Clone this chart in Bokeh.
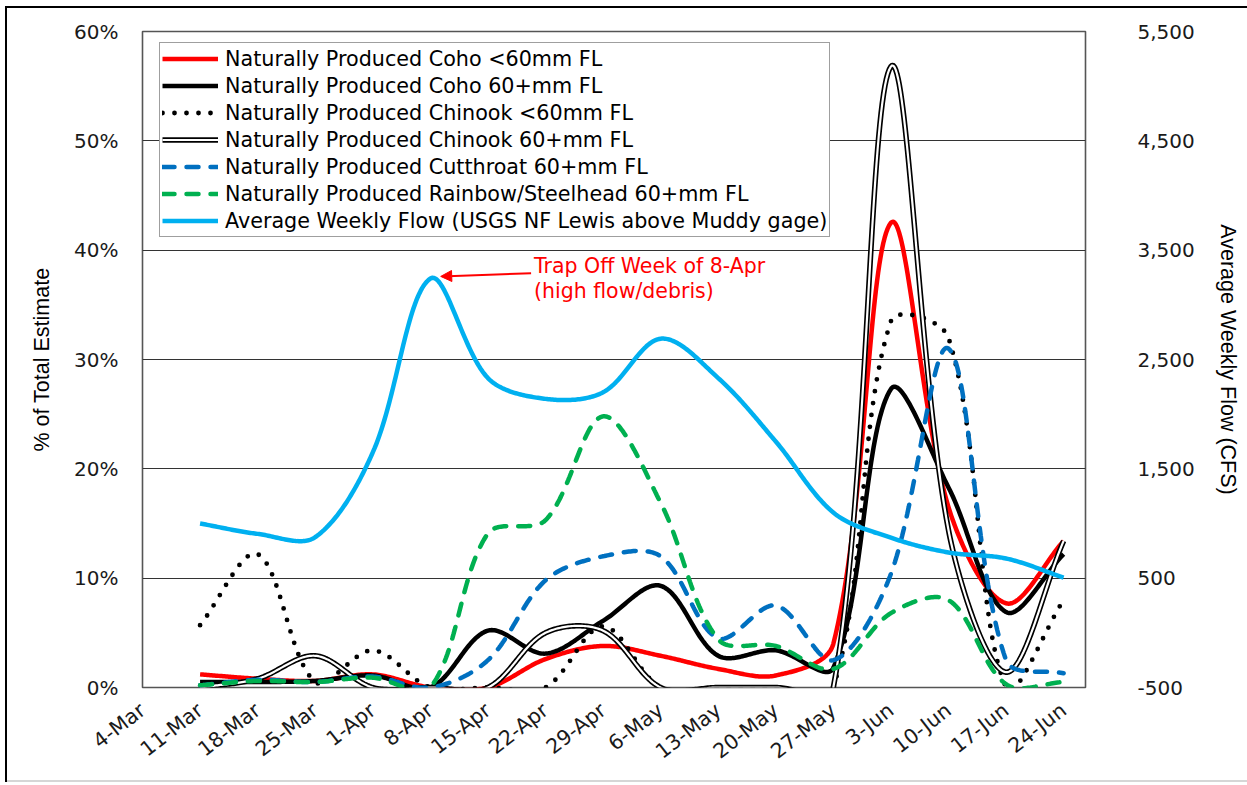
import numpy as np
from bokeh.plotting import figure
from bokeh.models import (Range1d, LinearAxis, FixedTicker, NumeralTickFormatter, Legend,
                          LegendItem, Label, Arrow, NormalHead)
from bokeh.embed import file_html
from bokeh.resources import INLINE

# Weekly tick labels along the x axis
week_labels = ["4-Mar", "11-Mar", "18-Mar", "25-Mar", "1-Apr", "8-Apr", "15-Apr", "22-Apr",
               "29-Apr", "6-May", "13-May", "20-May", "27-May", "3-Jun", "10-Jun", "17-Jun", "24-Jun"]
# Weeks that have catch / flow values (11-Mar .. 24-Jun)
sample_weeks = week_labels[1:]

# % of total estimate, per week
coho_lt60 = [1.2, 0.8, 0.6, 1.2, 0.0, 0.0, 2.6, 3.8, 2.9, 1.7, 1.1, 4.0, 42.5, 16.5, 7.7, 13.4]
coho_60plus = [0.5, 0.5, 0.6, 1.1, 0.0, 5.2, 3.1, 6.1, 9.3, 2.9, 3.4, 1.8, 27.3, 18.3, 6.9, 12.2]
chinook_lt60 = [5.7, 12.2, 0.5, 3.4, 0.0, 0.0, 0.0, 5.6, 0.0, 0.0, 0.0, 0.0, 33.5, 32.0, 0.0, 8.0]
chinook_60plus = [0.0, 0.8, 2.9, 0.0, 0.0, 0.0, 5.0, 5.2, 0.0, 0.0, 0.0, 0.0, 56.8, 14.4, 1.4, 13.4]
cutthroat_60plus = [0.2, 0.7, 0.5, 1.0, 0.0, 2.5, 9.8, 12.0, 12.0, 4.5, 7.5, 2.5, 10.4, 31.0, 2.5, 1.3]
rainbow_60plus = [0.2, 0.6, 0.5, 0.9, 0.0, 14.1, 15.3, 24.8, 16.9, 4.4, 3.8, 1.7, 6.8, 8.0, 0.3, 0.5]

# Average weekly flow (CFS), secondary axis
flow_cfs = [1000, 905, 875, 1650, 3240, 2330, 2140, 2200, 2690, 2330, 1750, 1100, 870, 735, 680, 505]

pct_ticks = [0, 10, 20, 30, 40, 50, 60]
flow_ticks = [-500, 500, 1500, 2500, 3500, 4500, 5500]

FONT = "DejaVu Sans"
TITLE_FONT = "Liberation Sans"

X_START, X_END = 0, 16.38
PCT_MIN, PCT_MAX = 0, 60
FLOW_MIN, FLOW_MAX = -500, 5500
FRAME_W, FRAME_H = 943, 656


def smooth(xs, ys, sx, sy, steps=40):
    """Smoothed curve through the points: cubic Bezier pieces whose tangents follow the
    neighbouring points, with control arms split by the on-screen segment lengths."""
    P = np.column_stack([np.asarray(xs, float) * sx, np.asarray(ys, float) * sy])
    n = len(P)
    right, left = [], []
    for i in range(n):
        prev_p = P[i - 1] if i > 0 else P[i]
        next_p = P[i + 1] if i < n - 1 else P[i]
        tan = next_p - prev_p
        d_prev = np.hypot(*(P[i] - prev_p))
        d_next = np.hypot(*(next_p - P[i]))
        tot = d_prev + d_next
        if tot == 0:
            right.append(P[i].copy())
            left.append(P[i].copy())
            continue
        right.append(P[i] + tan * (d_next / tot) / 3.0)
        left.append(P[i] - tan * (d_prev / tot) / 3.0)
    out = []
    for i in range(n - 1):
        p1, c1, c2, p2 = P[i], right[i], left[i + 1], P[i + 1]
        t = np.linspace(0, 1, steps, endpoint=(i == n - 2))[:, None]
        seg = ((1 - t) ** 3) * p1 + 3 * ((1 - t) ** 2) * t * c1 + 3 * (1 - t) * t ** 2 * c2 + t ** 3 * p2
        out.append(seg)
    out = np.vstack(out)
    return out[:, 0] / sx, out[:, 1] / sy


xpos = [week_labels.index(w) for w in sample_weeks]
px_per_week = FRAME_W / (X_END - X_START)
px_per_pct = FRAME_H / (PCT_MAX - PCT_MIN)
px_per_cfs = FRAME_H / (FLOW_MAX - FLOW_MIN)

p = figure(width=1247, height=785, output_backend="svg", toolbar_location=None,
           x_range=Range1d(X_START, X_END), y_range=Range1d(PCT_MIN, PCT_MAX),
           min_border_left=142, min_border_right=162, min_border_top=31, min_border_bottom=98)
p.background_fill_color = "white"
p.border_fill_alpha = 0
p.outline_line_color = "#555555"
p.outline_line_width = 1.6
# outer chart border (left / top dark, bottom light grey)
p.styles = {
    "background": ("linear-gradient(#000,#000) 5px 6px / 2px 776px no-repeat, "
                   "linear-gradient(#000,#000) 5px 6px / 1242px 2px no-repeat, "
                   "linear-gradient(#d6d6d6,#d6d6d6) 5px 780px / 1242px 2px no-repeat, #ffffff")
}

p.extra_y_ranges = {"flow": Range1d(FLOW_MIN, FLOW_MAX)}

# grid
p.xgrid.visible = False
p.ygrid.ticker = FixedTicker(ticks=pct_ticks)
p.ygrid.grid_line_color = "#333333"
p.ygrid.grid_line_width = 1.2

# left axis
yax = p.yaxis[0]
yax.ticker = FixedTicker(ticks=pct_ticks)
yax.major_label_overrides = {t: f"{t}%" for t in pct_ticks}
yax.axis_label = "% of Total Estimate"
yax.axis_label_text_font = TITLE_FONT
yax.axis_label_text_font_size = "21.5px"
yax.axis_label_text_font_style = "normal"
yax.axis_label_text_color = "black"
yax.axis_label_standoff = 17
yax.major_label_text_font = FONT
yax.major_label_text_font_size = "20px"
yax.major_label_text_color = "#1a1a1a"
yax.major_label_standoff = 24
yax.major_tick_out = 0
yax.major_tick_in = 0
yax.axis_line_color = None
yax.major_tick_line_color = None
yax.minor_tick_line_color = None

# right axis (flow)
rax = LinearAxis(y_range_name="flow")
rax.ticker = FixedTicker(ticks=flow_ticks)
rax.formatter = NumeralTickFormatter(format="0,0")
rax.axis_label = "Average Weekly Flow (CFS)"
rax.axis_label_text_font = TITLE_FONT
rax.axis_label_text_font_size = "21.5px"
rax.axis_label_text_font_style = "normal"
rax.axis_label_text_color = "black"
rax.axis_label_standoff = 18
rax.major_label_text_font = FONT
rax.major_label_text_font_size = "20px"
rax.major_label_text_color = "#1a1a1a"
rax.major_label_standoff = 52
rax.major_tick_out = 0
rax.major_tick_in = 0
rax.axis_line_color = None
rax.major_tick_line_color = None
rax.minor_tick_line_color = None
p.add_layout(rax, "right")

# bottom axis
xax = p.xaxis[0]
xax.ticker = FixedTicker(ticks=list(range(len(week_labels))))
xax.major_label_overrides = {i: lab for i, lab in enumerate(week_labels)}
xax.major_label_orientation = 0.66
xax.major_label_text_font = FONT
xax.major_label_text_font_size = "20.5px"
xax.major_label_text_color = "#1a1a1a"
xax.major_label_standoff = 20
xax.major_tick_out = 0
xax.major_tick_in = 0
xax.axis_line_color = None
xax.major_tick_line_color = None
xax.minor_tick_line_color = None

# series
x, y = smooth(xpos, coho_lt60, px_per_week, px_per_pct)
r_coho_lt60 = p.line(x, y, line_color="#FF0000", line_width=4.5, line_join="round")
x, y = smooth(xpos, coho_60plus, px_per_week, px_per_pct)
r_coho_60 = p.line(x, y, line_color="black", line_width=4.5, line_join="round")
x, y = smooth(xpos, chinook_lt60, px_per_week, px_per_pct)
r_chin_lt60 = p.line(x, y, line_color="black", line_width=4.8, line_dash="0 12", line_cap="round")
x, y = smooth(xpos, chinook_60plus, px_per_week, px_per_pct)
r_chin_60_out = p.line(x, y, line_color="black", line_width=5.5, line_join="round")
r_chin_60_in = p.line(x, y, line_color="white", line_width=2.2, line_join="round")
x, y = smooth(xpos, cutthroat_60plus, px_per_week, px_per_pct)
r_cut = p.line(x, y, line_color="#0070C0", line_width=4.5, line_dash="12 12", line_cap="round")
x, y = smooth(xpos, rainbow_60plus, px_per_week, px_per_pct)
r_rb = p.line(x, y, line_color="#00B050", line_width=4.5, line_dash="12 12", line_cap="round")
x, y = smooth(xpos, flow_cfs, px_per_week, px_per_cfs)
r_flow = p.line(x, y, line_color="#00B0F0", line_width=4.5, line_join="round", y_range_name="flow")

legend = Legend(items=[
    LegendItem(label="Naturally Produced Coho <60mm FL", renderers=[r_coho_lt60]),
    LegendItem(label="Naturally Produced Coho 60+mm FL", renderers=[r_coho_60]),
    LegendItem(label="Naturally Produced Chinook <60mm FL", renderers=[r_chin_lt60]),
    LegendItem(label="Naturally Produced Chinook 60+mm FL", renderers=[r_chin_60_out, r_chin_60_in]),
    LegendItem(label="Naturally Produced Cutthroat 60+mm FL", renderers=[r_cut]),
    LegendItem(label="Naturally Produced Rainbow/Steelhead 60+mm FL", renderers=[r_rb]),
    LegendItem(label="Average Weekly Flow (USGS NF Lewis above Muddy gage)", renderers=[r_flow]),
], location=(17, 450))
legend.label_text_font = FONT
legend.label_text_font_size = "20.7px"
legend.label_text_color = "black"
legend.border_line_color = "#404040"
legend.border_line_width = 1.5
legend.background_fill_color = "white"
legend.background_fill_alpha = 1.0
legend.padding = 2
legend.spacing = 0
legend.margin = 0
legend.glyph_height = 27
legend.label_height = 27
legend.glyph_width = 56
legend.label_standoff = 7
p.add_layout(legend)

# annotation for the week the trap was pulled
p.add_layout(Arrow(end=NormalHead(size=11, fill_color="#FF0000", line_color="#FF0000"),
                   x_start=6.75, y_start=37.9, x_end=5.18, y_end=37.6,
                   line_color="#FF0000", line_width=2))
p.add_layout(Label(x=6.80, y=38.55, text="Trap Off Week of 8-Apr", text_font=FONT,
                   text_font_size="20.5px", text_color="#FF0000", text_baseline="alphabetic"))
p.add_layout(Label(x=6.80, y=36.25, text="(high flow/debris)", text_font=FONT,
                   text_font_size="20.5px", text_color="#FF0000", text_baseline="alphabetic"))

open("out.html", "w").write(file_html(p, INLINE))
